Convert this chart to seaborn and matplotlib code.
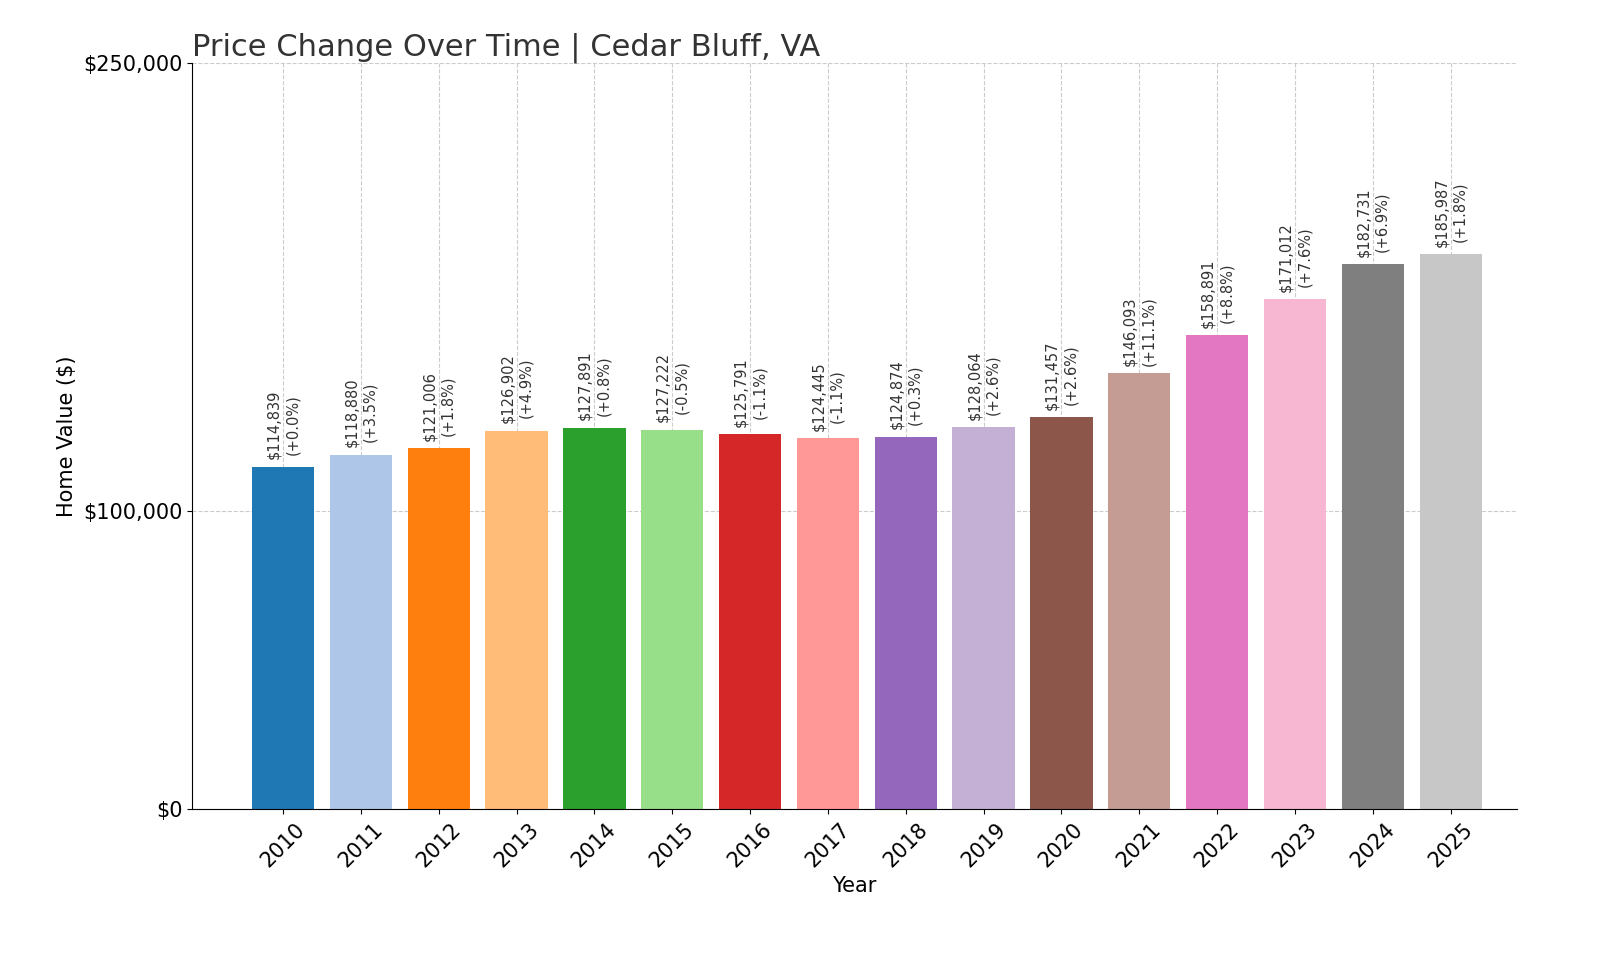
import matplotlib
matplotlib.use("Agg")
import matplotlib.pyplot as plt
import seaborn as sns
import pandas as pd

# data
years = [str(y) for y in range(2010, 2026)]
values = [114839, 118880, 121006, 126902, 127891, 127222, 125791, 124445,
          124874, 128064, 131457, 146093, 158891, 171012, 182731, 185987]
changes = ["+0.0%", "+3.5%", "+1.8%", "+4.9%", "+0.8%", "-0.5%", "-1.1%", "-1.1%",
           "+0.3%", "+2.6%", "+2.6%", "+11.1%", "+8.8%", "+7.6%", "+6.9%", "+1.8%"]
y_ticks = [0, 100000, 250000]
y_tick_labels = ["$0", "$100,000", "$250,000"]

df = pd.DataFrame({"Year": years, "Value": values})
colors = sns.color_palette("tab20", 16)

fig = plt.figure(figsize=(16, 9.6), dpi=100)
ax = fig.add_axes([0.12, 0.157, 0.828, 0.777])

sns.barplot(data=df, x="Year", y="Value", hue="Year", palette=colors,
            legend=False, width=0.8, saturation=1, ax=ax, zorder=2)

for i, (v, c) in enumerate(zip(values, changes)):
    ax.text(i, v + 2500, f"${v:,}\n({c})", rotation=90, ha="center", va="bottom",
            fontsize=10.5, color="#333333", linespacing=1.3)

ax.set_xlim(-1.17, 15.85)
ax.set_ylim(0, 250000)
ax.set_yticks(y_ticks)
ax.set_yticklabels(y_tick_labels, fontsize=15)
ax.tick_params(axis="x", labelsize=15, rotation=45)
for lbl in ax.get_xticklabels():
    lbl.set_ha("center")
ax.grid(True, linestyle="--", color="#cccccc", linewidth=0.8, zorder=0)
ax.set_axisbelow(True)
ax.spines["top"].set_visible(False)
ax.spines["right"].set_visible(False)

ax.set_title("Price Change Over Time | Cedar Bluff, VA", fontsize=22, loc="left",
             color="#333333")
ax.set_xlabel("Year", fontsize=15)
ax.set_ylabel("Home Value ($)", fontsize=15)

fig.savefig("out.png", dpi=100)
